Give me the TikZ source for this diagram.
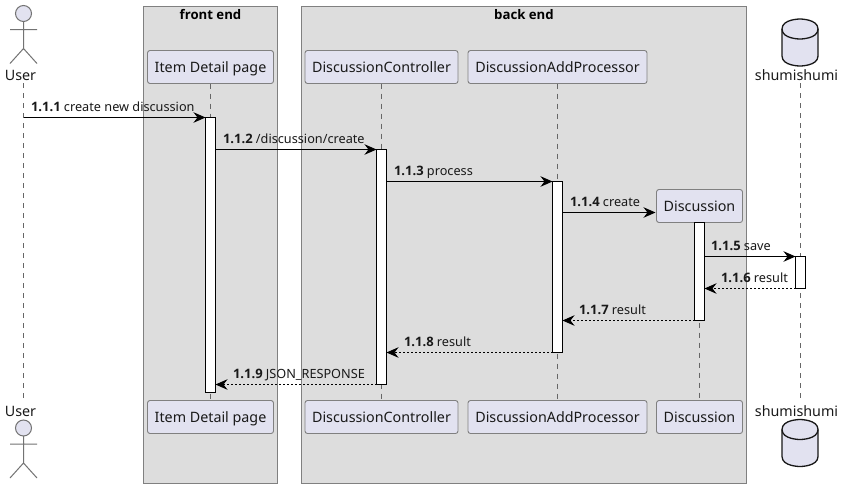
\documentclass[tikz,border=0pt]{standalone}
\usepackage{fontspec}
\setmainfont{Noto Sans}[BoldFont={Open Sans Bold}]
\usetikzlibrary{arrows.meta}
\definecolor{partfill}{HTML}{E2E2F0}
\definecolor{boxfill}{HTML}{DDDDDD}
\definecolor{edge}{HTML}{181818}
\newcommand{\seqno}[1]{{\fontsize{13}{15}\selectfont\bfseries #1}}
\tikzset{
  x=1pt,y=-1pt,
  every node/.style={outer sep=0pt},
  grp/.style={draw=black!50,fill=boxfill,line width=1pt},
  grptitle/.style={font=\fontsize{13.2}{15}\selectfont\bfseries,text=black,inner sep=0pt,anchor=center},
  part/.style={draw=black!50,fill=partfill,line width=0.9pt,rounded corners=2.5pt,minimum height=33pt,inner sep=0pt,anchor=center,font=\fontsize{14.3}{16}\selectfont,text=black!90,text height=13pt,text depth=3pt},
  plain/.style={inner sep=0pt,anchor=center,font=\fontsize{14.3}{16}\selectfont,text=black!90,text height=13pt,text depth=3pt},
  life/.style={draw=black!60,line width=0.8pt,dash pattern=on 5pt off 5pt},
  act/.style={draw=black,fill=white,line width=1pt,anchor=north west,inner sep=0pt,minimum width=10pt},
  msg/.style={draw=black,line width=1pt,-{Stealth[length=12pt,width=10.5pt,inset=4pt]}},
  ret/.style={draw=black,line width=0.9pt,dash pattern=on 2pt off 2pt,-{Stealth[length=12pt,width=10.5pt,inset=4pt]}},
  lab/.style={inner sep=0pt,anchor=base west,font=\fontsize{12.7}{15}\selectfont,text=black!90},
  actorline/.style={draw=black!55,line width=1pt},
  actorhead/.style={draw=black!55,fill=partfill,line width=1pt},
  dbs/.style={draw=edge,fill=partfill,line width=1.3pt},
  dbl/.style={draw=edge,line width=1.3pt},
}
\newcommand{\actorfig}[2]{%
  \draw[actorhead] (#1,#2) circle[radius=8];
  \draw[actorline] (#1,#2+8) -- (#1,#2+35) (#1-13.5,#2+16) -- (#1+13.5,#2+16) (#1-13.5,#2+50) -- (#1,#2+35) -- (#1+13.5,#2+50);}
\newcommand{\dbfig}[2]{%
  \draw[dbs] (#1-18,#2+10) .. controls (#1-18,#2) and (#1,#2) .. (#1,#2) .. controls (#1,#2) and (#1+18,#2) .. (#1+18,#2+10) -- (#1+18,#2+37) .. controls (#1+18,#2+47) and (#1,#2+47) .. (#1,#2+47) .. controls (#1,#2+47) and (#1-18,#2+47) .. (#1-18,#2+37) -- cycle;
  \draw[dbl] (#1-18,#2+10) .. controls (#1-18,#2+20) and (#1,#2+20) .. (#1,#2+20) .. controls (#1,#2+20) and (#1+18,#2+20) .. (#1+18,#2+10);}
\begin{document}
\begin{tikzpicture}
\useasboundingbox (0,0) rectangle (845,488);
\fill[white] (0,0) rectangle (845,488);
% group boxes
\node[grp,anchor=north west,inner sep=0pt,minimum width=134pt,minimum height=477pt] (front) at (143.5,6.5) {};
\node[grp,anchor=north west,inner sep=0pt,minimum width=445pt,minimum height=477pt] (back) at (301.5,6.5) {};
\node[grptitle] (fronttitle) at (210.5,15) {front end};
\node[grptitle] (backtitle) at (524,15) {back end};
% life-line anchors
\coordinate (uT) at (23.5,83); \coordinate (uB) at (23.5,400);
\coordinate (dbT) at (800.5,83); \coordinate (dbB) at (800.5,400);
% participants
\node[part,minimum width=126pt] (itemT) at (210.5,67) {Item Detail page};
\node[part,minimum width=153pt] (dcT) at (381.5,67) {DiscussionController};
\node[part,minimum width=179pt] (dapT) at (557.5,67) {DiscussionAddProcessor};
\node[part,minimum width=86pt] (dT) at (699.5,206) {Discussion};
\node[part,minimum width=126pt] (itemB) at (210.5,417) {Item Detail page};
\node[part,minimum width=153pt] (dcB) at (381.5,417) {DiscussionController};
\node[part,minimum width=179pt] (dapB) at (557.5,417) {DiscussionAddProcessor};
\node[part,minimum width=86pt] (dB) at (699.5,417) {Discussion};
% life lines
\draw[life] (uT) -- (uB);
\draw[life] (itemT.south) -- (itemB.north);
\draw[life] (dcT.south) -- (dcB.north);
\draw[life] (dapT.south) -- (dapB.north);
\draw[life] (dT.south) -- (dB.north);
\draw[life] (dbT) -- (dbB);
% activations
\node[act,minimum height=275pt] (aItem) at (205.5,117.5) {};
\node[act,minimum height=235pt] (aDc) at (376.5,149.5) {};
\node[act,minimum height=171pt] (aDap) at (552.5,181.5) {};
\node[act,minimum height=98pt] (aD) at (694.5,222.5) {};
\node[act,minimum height=32pt] (aDb) at (795.5,256.5) {};
\coordinate (createTo) at (655.5,212.5);
% actors and database
\actorfig{23.5}{13.5}
\node[plain] (userT) at (20.5,75) {User};
\node[plain] (userB) at (20.5,411) {User};
\actorfig{23.5}{428}
\node[plain] (dbTl) at (796.5,75) {shumishumi};
\node[plain] (dbBl) at (796.5,411) {shumishumi};
\dbfig{800}{19}
\dbfig{800}{419.5}
% messages
\draw[msg] (uT |- aItem.north) -- (aItem.north west);
\draw[msg] (aItem.east |- aDc.north) -- (aDc.north west);
\draw[msg] (aDc.east |- aDap.north) -- (aDap.north west);
\draw[msg] (aDap.east |- createTo) -- (createTo);
\draw[msg] (aD.east |- aDb.north) -- (aDb.north west);
\draw[ret] (aDb.south west) -- (aD.east |- aDb.south);
\draw[ret] (aD.south west) -- (aDap.east |- aD.south);
\draw[ret] (aDap.south west) -- (aDc.east |- aDap.south);
\draw[ret] (aDc.south west) -- (aItem.east |- aDc.south);
% message labels
\node[lab] (m1) at (31,111.7) {\seqno{1.1.1} create new discussion};
\node[lab] (m2) at (223,143.7) {\seqno{1.1.2} /discussion/create};
\node[lab] (m3) at (394,175.7) {\seqno{1.1.3} process};
\node[lab] (m4) at (570,206.7) {\seqno{1.1.4} create};
\node[lab] (m5) at (711,250.7) {\seqno{1.1.5} save};
\node[lab] (m6) at (721,282.7) {\seqno{1.1.6} result};
\node[lab] (m7) at (579,314.7) {\seqno{1.1.7} result};
\node[lab] (m8) at (404,346.7) {\seqno{1.1.8} result};
\node[lab] (m9) at (233,378.7) {\seqno{1.1.9} JSON\_RESPONSE};
\end{tikzpicture}
\end{document}
